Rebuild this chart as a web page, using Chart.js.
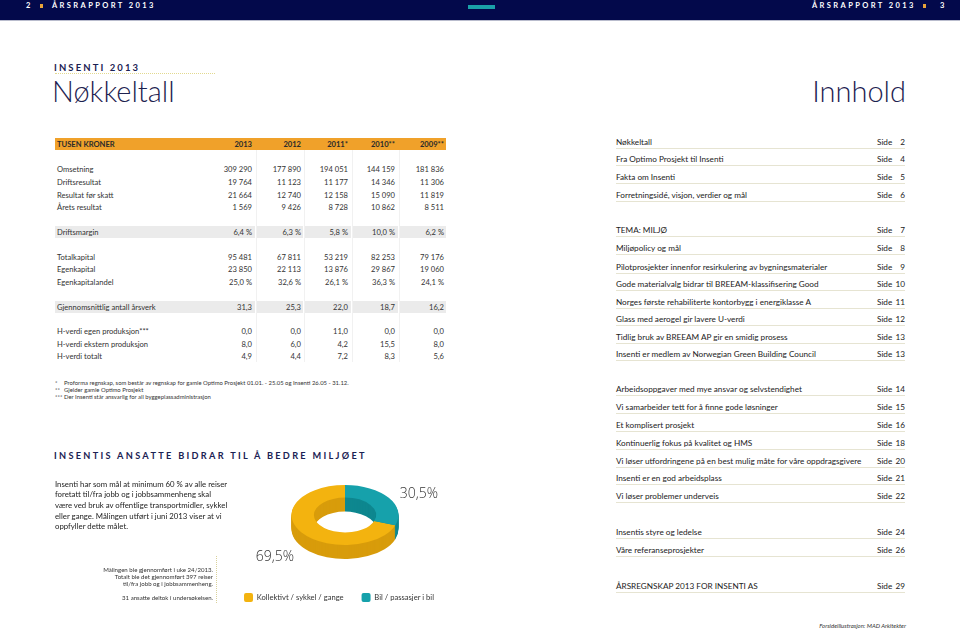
<!DOCTYPE html>
<html><head><meta charset="utf-8">
<script src="https://cdn.jsdelivr.net/npm/chart.js@4"></script>
<style>
html,body{margin:0;padding:0;background:#fff;}
body{width:960px;height:630px;position:relative;overflow:hidden;font-family:Lato,'Open Sans',sans-serif;color:#333;}
.a{position:absolute;white-space:nowrap;}
#bar{position:absolute;left:0;top:0;width:960px;height:20px;background:#03094b;border-bottom:1px solid #b9bccd;}
#teal{position:absolute;left:468px;top:5px;width:27px;height:4px;background:#1aa0a8;}
.hdr{color:#fff;font-weight:700;font-size:7.5px;letter-spacing:2.4px;line-height:10px;}
.kick{color:#1b2253;font-weight:700;font-size:9.5px;letter-spacing:2.1px;line-height:12px;}
.big{color:#1d2250;font-weight:300;font-size:29px;line-height:36px;}
.tb{font-size:7.6px;line-height:10px;color:#333;}
.th{font-size:7.6px;line-height:10px;color:#2a2a2a;font-weight:700;}
.toc{font-size:8.2px;line-height:11px;color:#222;}
.sec{color:#1b2253;font-weight:700;font-size:9.2px;letter-spacing:2.3px;line-height:12px;}
.p{font-size:7.8px;line-height:10.5px;color:#222;}
.note{font-size:6.1px;line-height:7px;color:#333;}
.fn{font-size:5.9px;line-height:7px;color:#333;}
</style></head><body>
<div id="bar"></div><div id="teal"></div>
<canvas id="c" width="290" height="144" style="position:absolute;left:194px;top:468px;"></canvas>
<script>
// ---------- chart data ----------
const categories = ['Kollektivt / sykkel / gange', 'Bil / passasjer i bil'];
const shares = [69.5, 30.5];
const topColors = ['#f3b30f', '#16a1ab'];
const sideColors = ['#d89c0b', '#0e878f'];

// ---------- table data ----------
const yearCols = ['2013', '2012', '2011*', '2010**', '2009**'];
const tableLabels = ['Omsetning','Driftsresultat','Resultat før skatt','Årets resultat','Driftsmargin','Totalkapital','Egenkapital','Egenkapitalandel','Gjennomsnittlig antall årsverk','H-verdi egen produksjon***','H-verdi ekstern produksjon','H-verdi totalt'];
const v2013 = ['309 290','19 764','21 664','1 569','6,4 %','95 481','23 850','25,0 %','31,3','0,0','8,0','4,9'];
const v2012 = ['177 890','11 123','12 740','9 426','6,3 %','67 811','22 113','32,6 %','25,3','0,0','6,0','4,4'];
const v2011 = ['194 051','11 177','12 158','8 728','5,8 %','53 219','13 876','26,1 %','22,0','11,0','4,2','7,2'];
const v2010 = ['144 159','14 346','15 090','10 862','10,0 %','82 253','29 867','36,3 %','18,7','0,0','15,5','8,3'];
const v2009 = ['181 836','11 306','11 819','8 511','6,2 %','79 176','19 060','24,1 %','16,2','0,0','8,0','5,6'];
const tocTitles = ['Nøkkeltall','Fra Optimo Prosjekt til Insenti','Fakta om Insenti','Forretningsidé, visjon, verdier og mål','TEMA: MILJØ','Miljøpolicy og mål','Pilotprosjekter innenfor resirkulering av bygningsmaterialer','Gode materialvalg bidrar til BREEAM-klassifisering Good','Norges første rehabiliterte kontorbygg i energiklasse A','Glass med aerogel gir lavere U-verdi','Tidlig bruk av BREEAM AP gir en smidig prosess','Insenti er medlem av Norwegian Green Building Council','Arbeidsoppgaver med mye ansvar og selvstendighet','Vi samarbeider tett for å finne gode løsninger','Et komplisert prosjekt','Kontinuerlig fokus på kvalitet og HMS','Vi løser utfordringene på en best mulig måte for våre oppdragsgivere','Insenti er en god arbeidsplass','Vi løser problemer underveis','Insentis styre og ledelse','Våre referanseprosjekter','ÅRSREGNSKAP 2013 FOR INSENTI AS'];
const tocPages = ['2','4','5','6','7','8','9','10','11','12','13','13','14','15','16','18','20','21','22','24','26','29'];
const paraLines = ['Insenti har som mål at minimum 60 % av alle reiser','foretatt til/fra jobb og i jobbsammenheng skal','være ved bruk av offentlige transportmidler, sykkel','eller gange.  Målingen utført i juni 2013 viser at vi','oppfyller dette målet.'];

// ---------- page layout helpers ----------
function put(x, yc, text, cls, align) {
  const d = document.createElement('div');
  d.className = 'a ' + cls;
  d.textContent = text;
  document.body.appendChild(d);
  const h = parseFloat(getComputedStyle(d).lineHeight);
  d.style.top = (yc - h / 2) + 'px';
  if (align === 'right') d.style.right = (960 - x) + 'px'; else d.style.left = x + 'px';
  return d;
}
function box(x, y, w, h, bg, extra) {
  const d = document.createElement('div');
  d.style.cssText = `position:absolute;left:${x}px;top:${y}px;width:${w}px;height:${h}px;background:${bg};` + (extra || '');
  document.body.appendChild(d);
  return d;
}
// header
put(26, 6, '2', 'hdr');
box(40, 4, 3, 4, '#e8a33a');
put(52, 6, 'ÅRSRAPPORT 2013', 'hdr');
put(812, 6, 'ÅRSRAPPORT 2013', 'hdr');
box(923, 4, 3, 4, '#e8a33a');
put(940, 6, '3', 'hdr');

// titles
put(54, 68, 'INSENTI 2013', 'kick');
box(55, 73, 160, 0, 'transparent', 'border-top:1px dotted #e2d98f;');
put(52, 91, 'Nøkkeltall', 'big');
put(906, 91, 'Innhold', 'big', 'right');

// table
box(55, 138, 391, 12, '#f0a12a');
put(57, 144, 'TUSEN KRONER', 'th');
const colRight = [252, 301, 348, 395, 444];
yearCols.forEach((y, i) => put(colRight[i], 144, y, 'th', 'right'));
const segs = [[55, 200], [257, 46], [305, 46], [353, 45], [400, 46]];
[226, 301].forEach(y => segs.forEach(([x, w]) => box(x, y, w, 12, '#ebebeb')));
[256, 304, 352, 399].forEach(x => box(x, 150, 1, 212, '#f1f1f1'));
const rowY = [169, 182, 195, 207, 232, 257, 269, 282, 307, 331, 344, 356];
const cols = [v2013, v2012, v2011, v2010, v2009];
tableLabels.forEach((lab, r) => {
  put(57, rowY[r], lab, 'tb');
  cols.forEach((c, i) => put(colRight[i], rowY[r], c[r], 'tb', 'right'));
});
put(55, 382, '*', 'fn'); put(64, 382, 'Proforma regnskap, som består av regnskap for gamle Optimo Prosjekt 01.01. - 25.05 og Insenti 26.05 - 31.12.', 'fn');
put(55, 389, '**', 'fn'); put(64, 389, 'Gjelder gamle Optimo Prosjekt', 'fn');
put(55, 396, '***', 'fn'); put(64, 396, 'Der Insenti står ansvarlig for all byggeplassadministrasjon', 'fn');

// section
put(54, 456, 'INSENTIS ANSATTE BIDRAR TIL Å BEDRE MILJØET', 'sec');
paraLines.forEach((l, i) => put(55, 484 + i * 10.6, l, 'p'));
put(213, 569, 'Målingen ble gjennomført i uke 24/2013.', 'note', 'right');
put(213, 576, 'Totalt ble det gjennomført 397 reiser', 'note', 'right');
put(213, 583, 'til/fra jobb og i jobbsammenheng.', 'note', 'right');
put(213, 597, '31 ansatte deltok i undersøkelsen.', 'note', 'right');
box(216, 556, 0, 47, 'transparent', 'border-left:1px dotted #d9d19a;');

// TOC
const tocY = [142,159,177,195,230,248,267,284,302,319,337,354,389,407,425,443,461,478,496,532,550,586];
tocTitles.forEach((t, i) => {
  put(616, tocY[i], t, 'toc');
  put(877, tocY[i], 'Side', 'toc');
  put(905, tocY[i], tocPages[i], 'toc', 'right');
  box(616, tocY[i] + 6, 289, 1, '#e6e4d2');
});
const f = put(906, 625, 'Forsideillustrasjon: MAD Arkitekter', 'note', 'right');
f.style.fontStyle = 'italic'; f.style.fontSize = '6px';

// ---------- chart ----------
const K = 0.56, T = 14, TX = 151, TY = 47;
const tilt = {
  id: 'tilt',
  beforeDatasetsDraw(chart) {
    const ctx = chart.ctx;
    const arcs = chart.getDatasetMeta(0).data;
    for (let d = T; d >= 1; d--) {
      arcs.forEach((a, i) => {
        const q = a.getProps(['x', 'y', 'startAngle', 'endAngle', 'innerRadius', 'outerRadius']);
        ctx.save();
        ctx.translate(TX, TY + d);
        ctx.scale(1, K);
        ctx.translate(-q.x, -q.y);
        ctx.beginPath();
        ctx.arc(q.x, q.y, q.outerRadius, q.startAngle, q.endAngle);
        ctx.arc(q.x, q.y, q.innerRadius, q.endAngle, q.startAngle, true);
        ctx.closePath();
        ctx.fillStyle = sideColors[i];
        ctx.fill();
        ctx.restore();
      });
    }
    const a0 = arcs[0];
    ctx.save();
    ctx.translate(TX, TY);
    ctx.scale(1, K);
    ctx.translate(-a0.x, -a0.y);
  },
  afterDatasetsDraw(chart) {
    const ctx = chart.ctx;
    ctx.restore();
    const arcs = chart.getDatasetMeta(0).data;
    ctx.save();
    ctx.font = '300 14px "Open Sans", Lato, sans-serif';
    ctx.fillStyle = '#333';
    ctx.textAlign = 'center';
    ctx.textBaseline = 'middle';
    arcs.forEach((a, i) => {
      const mid = (a.startAngle + a.endAngle) / 2;
      const txt = shares[i].toFixed(1).replace('.', ',') + '%';
      ctx.fillText(txt, TX + 2 + Math.cos(mid) * 88, TY + 10.5 + Math.sin(mid) * 55);
    });
    ctx.restore();
  }
};

new Chart(document.getElementById('c'), {
  type: 'doughnut',
  data: {
    labels: categories,
    datasets: [{ data: shares, backgroundColor: topColors, borderWidth: 0, hoverOffset: 0 }]
  },
  options: {
    responsive: false,
    animation: false,
    devicePixelRatio: 1,
    cutout: '58%',
    rotation: shares[1] / 100 * 360,
    plugins: {
      tooltip: { enabled: false },
      legend: {
        position: 'bottom',
        labels: {
          boxWidth: 9, boxHeight: 9, padding: 18, color: '#333',
          font: { family: 'Lato, "Open Sans", sans-serif', size: 7.6 },
          generateLabels(chart) {
            return Chart.overrides.doughnut.plugins.legend.labels.generateLabels(chart)
              .map(l => Object.assign(l, { borderRadius: 2, lineWidth: 0 }));
          }
        }
      }
    }
  },
  plugins: [tilt]
});
</script>
</body></html>
